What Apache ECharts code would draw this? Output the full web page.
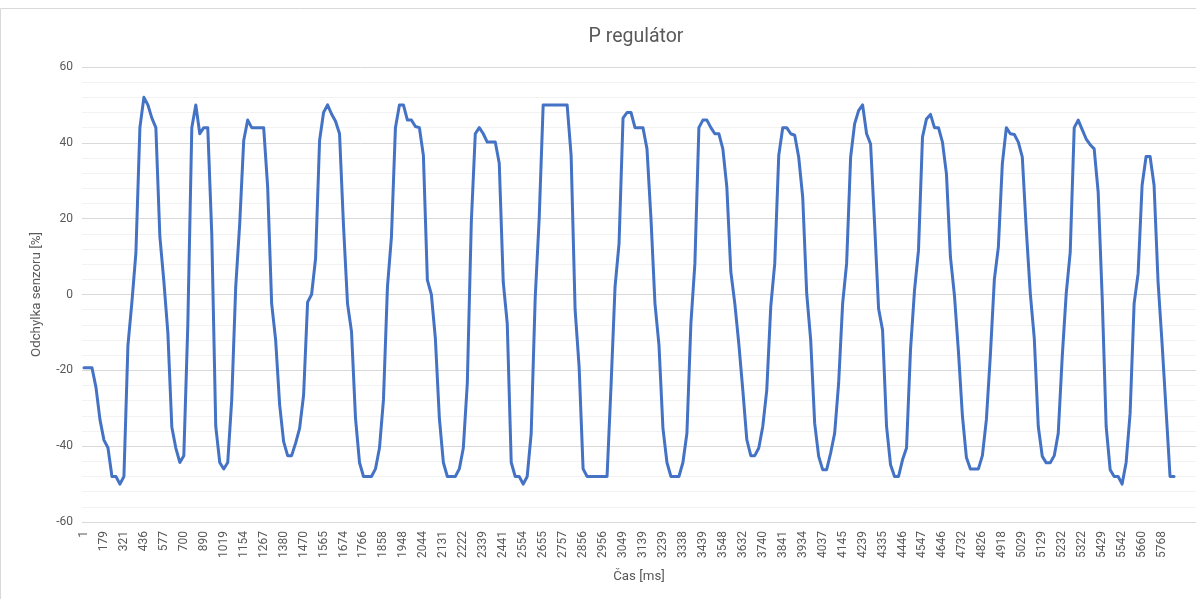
<!DOCTYPE html>
<html>
<head>
<meta charset="utf-8">
<script src="https://cdn.jsdelivr.net/npm/echarts@6/dist/echarts.min.js"></script>
<style>
html,body{margin:0;padding:0;background:#fff;}
#chart{width:1196px;height:599px;}
</style>
</head>
<body>
<div id="chart"></div>
<script>
// Visible x-axis tick labels (time in ms), one every 5 samples
const tickLabels = [1,179,321,436,577,700,890,1019,1154,1267,1380,1470,1565,1674,1766,1858,1948,2044,2131,2222,2339,2441,2554,2655,2757,2856,2956,3049,3139,3239,3338,3439,3548,3632,3740,3841,3934,4037,4145,4239,4335,4446,4547,4646,4732,4826,4918,5029,5129,5232,5322,5429,5542,5660,5768];

// Sensor deviation [%] per sample
const deviation = [
-19.3,-19.3,-19.3,-24.5,-33,-38.4,-40.4,-48,-48,-50,
-48,-13.5,-2,11,44,52,50,46.5,44,15.3,
3.5,-10,-35,-40.5,-44.3,-42.5,-8,44,50,42.4,
44,44,16,-34.8,-44.3,-46,-44.3,-27.8,2,18.7,
40.6,46,44,44,44,44,28.3,-2.4,-12,-29.1,
-38.8,-42.5,-42.5,-39.2,-35.3,-26.5,-2,0,9.5,40.6,
48,50,47.6,45.7,42.4,18,-2.4,-9.8,-32.6,-44.3,
-48,-48,-48,-46,-40.5,-27.8,2,15.2,44,50,
50,46,46,44.3,44,36.7,3.8,0,-11.6,-32.6,
-44.3,-48,-48,-48,-46,-40.5,-23.4,19,42.4,44,
42.4,40.2,40.2,40.2,34.6,3.3,-7.6,-44.3,-48,-48,
-50,-48,-36.6,-1,20,50,50,50,50,50,
50,50,36.7,-4,-19,-46,-48,-48,-48,-48,
-48,-48,-24,2,13.4,46.5,48,48,44,44,
44,38.4,20,-2.4,-13.3,-35.3,-44.3,-48,-48,-48,
-44.3,-36.6,-7.6,8.2,44,46,46,44,42.4,42.4,
38.4,28.3,6,-2.4,-13,-25.2,-38.3,-42.5,-42.5,-40.5,
-34.8,-25.2,-3.2,8.2,36.7,44,44,42.4,42,36.2,
25.7,0.3,-12,-34,-42.7,-46.2,-46.2,-41.8,-36.6,-23.4,
-2.4,8.2,36.2,45,48.5,50,42.4,39.7,18.7,-3.7,
-9.4,-34.8,-44.9,-48,-48,-43.6,-40.5,-14.6,1.1,11.7,
41.5,46.3,47.5,44,44,40.2,31.8,9.9,-0.2,-15,
-32,-43,-46,-46,-46,-42.5,-33,-16,4,12.5,
34.5,44,42.4,42.2,40.2,36.2,17,0.3,-11.6,-34.8,
-42.7,-44.4,-44.4,-42.5,-36.6,-16.4,0.3,11.2,44,46,
43.5,41,39.5,38.4,27,-0.6,-34.8,-46.2,-48,-48,
-50,-44.3,-31.3,-2.4,5.5,28.8,36.4,36.4,28.8,3.3,
-12.8,-30.4,-48,-48
];

const yTicks = {min: -60, max: 60, interval: 20};
const categoryCount = 279; // axis slots (the plot continues past the last sample)

// category axis: every 5th slot carries a visible time label, others unlabeled
const categories = [];
for (let i = 0; i < categoryCount; i++) {
  if (i % 5 === 0 && tickLabels[i / 5] !== undefined) categories.push(String(tickLabels[i / 5]));
  else categories.push('');
}

const FONT = 'Roboto, "Liberation Sans", sans-serif';
const chart = echarts.init(document.getElementById('chart'), null, {renderer: 'canvas'});
chart.setOption({
  animation: false,
  backgroundColor: '#ffffff',
  graphic: [{
    type: 'rect',
    shape: {x: 0.5, y: 8.5, width: 1300, height: 700},
    style: {fill: 'none', stroke: '#d9d9d9', lineWidth: 1},
    silent: true, z: -10
  }, {
    type: 'text',
    x: 636, y: 37,
    style: {
      text: 'P regulátor',
      fill: '#595959',
      font: '19.5px ' + FONT,
      textAlign: 'center',
      textVerticalAlign: 'middle'
    },
    silent: true
  }],
  grid: {left: 82, top: 67, width: 1116, height: 455, containLabel: false},
  xAxis: {
    type: 'category',
    data: categories,
    boundaryGap: true,
    name: 'Čas [ms]',
    nameLocation: 'middle',
    nameGap: 48,
    nameTextStyle: {color: '#595959', fontSize: 13.3, fontFamily: FONT},
    axisLine: {show: true, lineStyle: {color: '#d9d9d9', width: 1}},
    axisTick: {show: false},
    splitLine: {show: false},
    axisLabel: {
      interval: 4,
      rotate: 90,
      margin: 9,
      color: '#595959',
      fontSize: 12,
      fontFamily: FONT
    }
  },
  yAxis: {
    type: 'value',
    min: yTicks.min,
    max: yTicks.max,
    interval: yTicks.interval,
    name: 'Odchylka senzoru [%]',
    nameLocation: 'middle',
    nameGap: 39,
    nameTextStyle: {color: '#595959', fontSize: 13.3, fontFamily: FONT},
    axisLine: {show: false},
    axisTick: {show: false},
    axisLabel: {color: '#595959', fontSize: 12, fontFamily: FONT, margin: 9},
    splitLine: {show: true, lineStyle: {color: '#d9d9d9', width: 1}},
    minorTick: {show: false, splitNumber: 5},
    minorSplitLine: {show: true, lineStyle: {color: '#f2f2f2', width: 1}}
  },
  series: [{
    type: 'line',
    data: deviation,
    showSymbol: false,
    symbol: 'none',
    smooth: false,
    lineStyle: {color: '#4472c4', width: 3, cap: 'round', join: 'round'},
    itemStyle: {color: '#4472c4'}
  }]
});
</script>
</body>
</html>
